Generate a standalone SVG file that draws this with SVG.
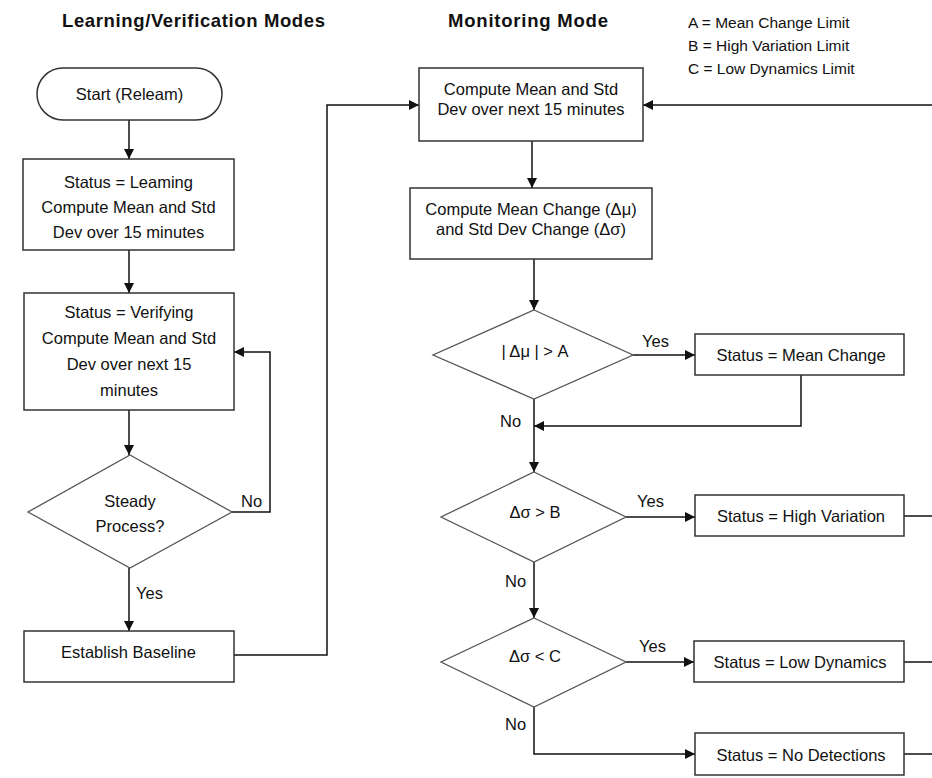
<svg xmlns="http://www.w3.org/2000/svg" width="932" height="778" viewBox="0 0 932 778">
<style>
text{font-family:"Liberation Sans",Arial,sans-serif;font-size:16.5px;fill:#111;}
.c{text-anchor:middle;}
.t{font-weight:bold;font-size:18.5px;}
.lg{font-size:15.5px;}
.box{fill:#fff;stroke:#333;stroke-width:1.5;}
.dia{fill:#fff;stroke:#555;stroke-width:1.3;}
.ln{fill:none;stroke:#111;stroke-width:1.5;}
.ar{fill:none;stroke:#111;stroke-width:1.5;marker-end:url(#ah);}
</style>
<defs>
<marker id="ah" viewBox="0 0 10 10" refX="10" refY="5" markerWidth="11" markerHeight="10" markerUnits="userSpaceOnUse" orient="auto">
<path d="M0,0 L10,5 L0,10 z" fill="#111"/>
</marker>
</defs>
<rect width="932" height="778" fill="#fff"/>

<g id="titles">
<text class="t" x="62" y="27" textLength="263" lengthAdjust="spacing">Learning/Verification Modes</text>
<text class="t" x="448" y="27" textLength="160" lengthAdjust="spacing">Monitoring Mode</text>
</g>
<g id="legend">
<text class="lg" x="688" y="28">A = Mean Change Limit</text>
<text class="lg" x="688" y="51">B = High Variation Limit</text>
<text class="lg" x="688" y="74">C = Low Dynamics Limit</text>
</g>

<g id="connectors">
<path class="ar" d="M129,120 V159"/>
<path class="ar" d="M129,250 V293"/>
<path class="ar" d="M129,410 V455"/>
<path class="ar" d="M232,512 H270 V352 H234"/>
<path class="ar" d="M129,568 V631"/>
<path class="ar" d="M234,655 H327 V105 H419"/>
<path class="ar" d="M932,105 H643"/>
<path class="ar" d="M532,141 V188"/>
<path class="ar" d="M534,259 V310"/>
<path class="ar" d="M633,355 H695"/>
<path class="ar" d="M801,375 V426 H534"/>
<path class="ar" d="M534,399 V472"/>
<path class="ar" d="M626,517 H695"/>
<path class="ln" d="M904,516 H932"/>
<path class="ar" d="M534,562 V618"/>
<path class="ar" d="M626,662 H694"/>
<path class="ln" d="M904,662 H932"/>
<path class="ar" d="M534,707 V754 H695"/>
<path class="ln" d="M904,754 H932"/>
<text x="642" y="347">Yes</text>
<text x="500" y="427">No</text>
<text x="637" y="507">Yes</text>
<text x="505" y="587">No</text>
<text x="639" y="652">Yes</text>
<text x="505" y="730">No</text>
<text x="241" y="507">No</text>
<text x="136" y="599">Yes</text>
</g>

<g id="start">
<rect class="box" x="37" y="68" width="185" height="52" rx="26" ry="26"/>
<text class="c" x="129.5" y="100">Start (Releam)</text>
</g>
<g id="learning">
<rect class="box" x="23" y="159" width="211" height="91"/>
<text class="c" x="128.5" y="188">Status = Leaming</text>
<text class="c" x="128.5" y="213">Compute Mean and Std</text>
<text class="c" x="128.5" y="238">Dev over 15 minutes</text>
</g>
<g id="verifying">
<rect class="box" x="24" y="293" width="210" height="117"/>
<text class="c" x="129" y="318">Status = Verifying</text>
<text class="c" x="129" y="344">Compute Mean and Std</text>
<text class="c" x="129" y="370">Dev over next 15</text>
<text class="c" x="129" y="396">minutes</text>
</g>
<g id="steady">
<polygon class="dia" points="130,455 232,512 130,568 28,512"/>
<text class="c" x="130" y="507">Steady</text>
<text class="c" x="130" y="532">Process?</text>
</g>
<g id="baseline">
<rect class="box" x="24" y="631" width="210" height="51"/>
<text class="c" x="128.5" y="658">Establish Baseline</text>
</g>

<g id="compute">
<rect class="box" x="419" y="68" width="224" height="73"/>
<text class="c" x="531" y="95">Compute Mean and Std</text>
<text class="c" x="531" y="115">Dev over next 15 minutes</text>
</g>
<g id="change">
<rect class="box" x="410" y="188" width="242" height="71"/>
<text class="c" x="531" y="215">Compute Mean Change (Δμ)</text>
<text class="c" x="531" y="235">and Std Dev Change (Δσ)</text>
</g>
<g id="d1">
<polygon class="dia" points="534,310 633,355 534,399 433,355"/>
<text class="c" x="535" y="357">| Δμ | &gt; A</text>
</g>
<g id="meanchange">
<rect class="box" x="695" y="334" width="209" height="41"/>
<text class="c" x="801" y="361">Status = Mean Change</text>
</g>
<g id="d2">
<polygon class="dia" points="534,472 626,517 534,562 441,517"/>
<text class="c" x="535" y="518">Δσ &gt; B</text>
</g>
<g id="highvar">
<rect class="box" x="695" y="495" width="209" height="41"/>
<text class="c" x="801" y="522">Status = High Variation</text>
</g>
<g id="d3">
<polygon class="dia" points="534,618 626,662 534,707 441,662"/>
<text class="c" x="535" y="662">Δσ &lt; C</text>
</g>
<g id="lowdyn">
<rect class="box" x="694" y="641" width="210" height="41"/>
<text class="c" x="800" y="668">Status = Low Dynamics</text>
</g>
<g id="nodet">
<rect class="box" x="695" y="733" width="209" height="42"/>
<text class="c" x="801" y="761">Status = No Detections</text>
</g>
</svg>
